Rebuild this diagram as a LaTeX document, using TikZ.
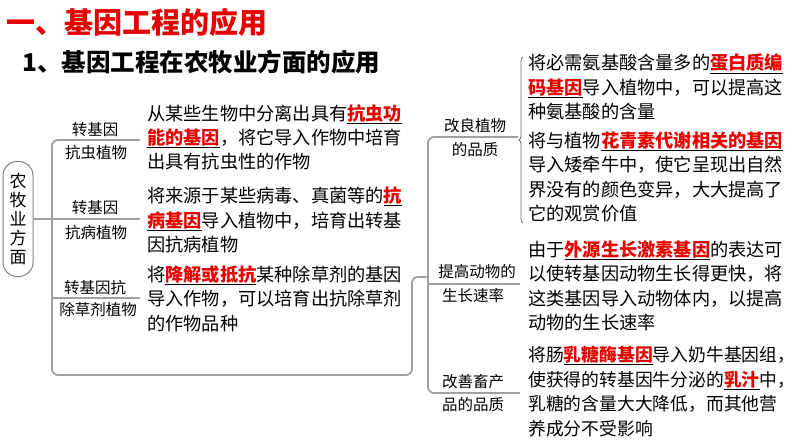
\documentclass[tikz,border=0pt]{standalone}
\usepackage{fontspec}
\setmainfont{Noto Sans CJK SC}
\usetikzlibrary{decorations.pathreplacing}

\definecolor{keyred}{RGB}{230,0,0}
\definecolor{linegray}{RGB}{160,160,160}
\newcommand{\keyword}[1]{\leavevmode\vtop{\hbox{\textcolor{keyred}{\bfseries #1}}\kern0.8pt\hrule height 1pt}}
\newcommand{\tailcomma}{\makebox[0.4em][l]{，}}

\tikzset{
  branch/.style={draw=linegray,line width=1.8pt},
  label/.style={inner sep=0pt,font=\fontsize{15.5}{18}\selectfont},
  desc/.style={inner sep=0pt,anchor=west,align=left,font=\fontsize{18.2}{24.4}\selectfont},
}

\begin{document}
\begin{tikzpicture}[x=1pt,y=-1pt]
  \useasboundingbox (0,0) rectangle (794,447);

  % headings
  \node(title)[anchor=west,inner sep=0pt,text=keyred,font=\fontsize{29}{29}\selectfont\bfseries] at (6,22) {一、基因工程的应用};
  \node(subtitle)[anchor=west,inner sep=0pt,font=\fontsize{24.5}{24.5}\selectfont\bfseries] at (22,62) {1、基因工程在农牧业方面的应用};

  % root
  \node(root)[draw=gray,line width=1pt,rounded corners=14pt,minimum width=30pt,minimum height=115pt,inner sep=0pt,align=center,font=\fontsize{17}{19}\selectfont] at (18,219) {农\\牧\\业\\方\\面};

  % plants
  \coordinate(lt) at (52,140);
  \coordinate(lm) at (52,219);
  \coordinate(lw) at (52,298);
  \coordinate(lb) at (52,375);
  \coordinate(lr) at (412,375);
  \coordinate(lu) at (412,277);
  \coordinate(rj) at (428,277);
  \coordinate(insect) at (140,140);
  \coordinate(disease) at (140,219);
  \coordinate(weed) at (140,298);

  \draw[branch] (root.east) -- (lm);
  \draw[branch,rounded corners=6pt] (insect) -- (lt) -- (lb) -- (lr) -- (lu) -- (rj);
  \draw[branch] (lm) -- (disease);
  \draw[branch] (lw) -- (weed);

  \node(insect-a)[label] at (95,130) {转基因};
  \node(insect-b)[label] at (96,153) {抗虫植物};
  \node(disease-a)[label] at (95,208) {转基因};
  \node(disease-b)[label] at (96,233) {抗病植物};
  \node(weed-a)[label] at (95,288) {转基因抗};
  \node(weed-b)[label] at (98,310) {除草剂植物};

  \node(insect-text)[desc] at (147,137.5) {从某些生物中分离出具有\keyword{抗虫功}\\\keyword{能的基因}，将它导入作物中培育\\出具有抗虫性的作物};
  \node(disease-text)[desc] at (147,220) {将来源于某些病毒、真菌等的\keyword{抗}\\\keyword{病基因}导入植物中，培育出转基\\因抗病植物};
  \node(weed-text)[desc] at (147,298.5) {将\keyword{降解或抵抗}某种除草剂的基因\\导入作物，可以培育出抗除草剂\\的作物品种};

  % animals and quality
  \coordinate(rt) at (428,137);
  \coordinate(rm) at (428,284);
  \coordinate(rb) at (428,393);
  \coordinate(quality) at (518,137);
  \coordinate(growth) at (520,284);
  \coordinate(product) at (520,393);

  \draw[branch,rounded corners=6pt] (quality) -- (rt) -- (rb) -- (product);
  \draw[branch] (rm) -- (growth);
  \draw[linegray!70!black,line width=0.8pt,decorate,decoration={brace,amplitude=4pt}] (523,223) -- (523,57);

  \node(quality-a)[label] at (475,126) {改良植物};
  \node(quality-b)[label] at (475,150) {的品质};
  \node(growth-a)[label] at (477,272) {提高动物的};
  \node(growth-b)[label] at (473,296) {生长速率};
  \node(product-a)[label] at (473,382) {改善畜产};
  \node(product-b)[label] at (473,405) {品的品质};

  \node(protein-text)[desc] at (528,87) {将必需氨基酸含量多的\keyword{蛋白质编}\\\keyword{码基因}导入植物中，可以提高这\\种氨基酸的含量};
  \node(flower-text)[desc] at (528,177) {将与植物\keyword{花青素代谢相关的基因}\\导入矮牵牛中，使它呈现出自然\\界没有的颜色变异，大大提高了\\它的观赏价值};
  \node(growth-text)[desc] at (528,286) {由于\keyword{外源生长激素基因}的表达可\\以使转基因动物生长得更快，将\\这类基因导入动物体内，以提高\\动物的生长速率};
  \node(milk-text)[desc,font=\fontsize{17.8}{24.4}\selectfont] at (528,391.5) {将肠\keyword{乳糖酶基因}导入奶牛基因组\tailcomma\\使获得的转基因牛分泌的\keyword{乳汁}中\tailcomma\\乳糖的含量大大降低，而其他营\\养成分不受影响};
\end{tikzpicture}
\end{document}
